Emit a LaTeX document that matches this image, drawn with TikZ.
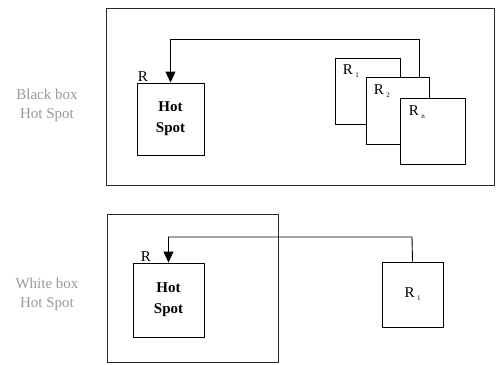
\documentclass[tikz,border=0pt]{standalone}
\usepackage{fontspec}
\setmainfont{Liberation Serif}
\usetikzlibrary{arrows.meta}
\newcommand{\mysub}[1]{\,\raisebox{-3pt}{\fontsize{7}{7}\selectfont #1}}
\begin{document}
\begin{tikzpicture}[x=1pt,y=-1pt,
  frame/.style={draw=black!85,line width=0.8pt,inner sep=0pt},
  blk/.style={draw=black,line width=0.9pt,fill=white,inner sep=0pt},
  hs/.style={blk,font=\fontsize{15}{21}\selectfont\bfseries,align=center},
  rlab/.style={font=\fontsize{15}{15}\selectfont,inner sep=0pt},
  side/.style={font=\fontsize{15}{19}\selectfont,text=black!40,align=center},
  conn/.style={draw=black,line width=0.9pt},
  arr/.style={conn,-{Triangle[length=11pt,width=10pt]}}]
\useasboundingbox (0,0) rectangle (497,364);
% top panel
\node[frame,minimum width=388,minimum height=177] (outer1) at (300,96.5) {};
\node[side] (lab1) at (47,105) {Black box\\Hot Spot};
\node[hs,minimum width=67,minimum height=72] (hs1) at (170.5,119) {Hot\\Spot};
\node[rlab,anchor=south west] (r1) at ([xshift=1pt,yshift=1pt]hs1.north west) {R};
\node[blk,minimum width=65,minimum height=66] (Ra) at (367.5,91) {};
\node[blk,minimum width=63,minimum height=67] (Rb) at (397.5,110.5) {};
\node[blk,minimum width=65,minimum height=66] (Rc) at (432.5,131) {};
\node[rlab,anchor=north west] (Ral) at ([xshift=8pt,yshift=-7pt]Ra.north west) {R\mysub{1}};
\node[rlab,anchor=north west] (Rbl) at ([xshift=8pt,yshift=-8pt]Rb.north west) {R\mysub{2}};
\node[rlab,anchor=north west] (Rcl) at ([xshift=9pt,yshift=-8pt]Rc.north west) {R\mysub{n}};
\coordinate (t1) at (419,39);
\draw[arr] (Rb.north -| t1) -- (t1) -- (t1 -| hs1.north) -- (hs1.north);
% bottom panel
\node[frame,minimum width=171,minimum height=148] (outer2) at (192.5,288) {};
\node[side] (lab2) at (47,294) {White box\\Hot Spot};
\node[hs,minimum width=71,minimum height=74] (hs2) at (168.5,300) {Hot\\Spot};
\node[rlab,anchor=south west] (r2) at ([xshift=8pt,yshift=1pt]hs2.north west) {R};
\node[blk,minimum width=61,minimum height=65] (Rd) at (412.5,294.5) {};
\node[rlab] (Rdl) at (Rd.center) {R\mysub{1}};
\coordinate (t2) at (412,237);
\draw[arr] (Rd.north) -- (t2) -- (t2 -| hs2.north) -- (hs2.north);
\end{tikzpicture}
\end{document}
